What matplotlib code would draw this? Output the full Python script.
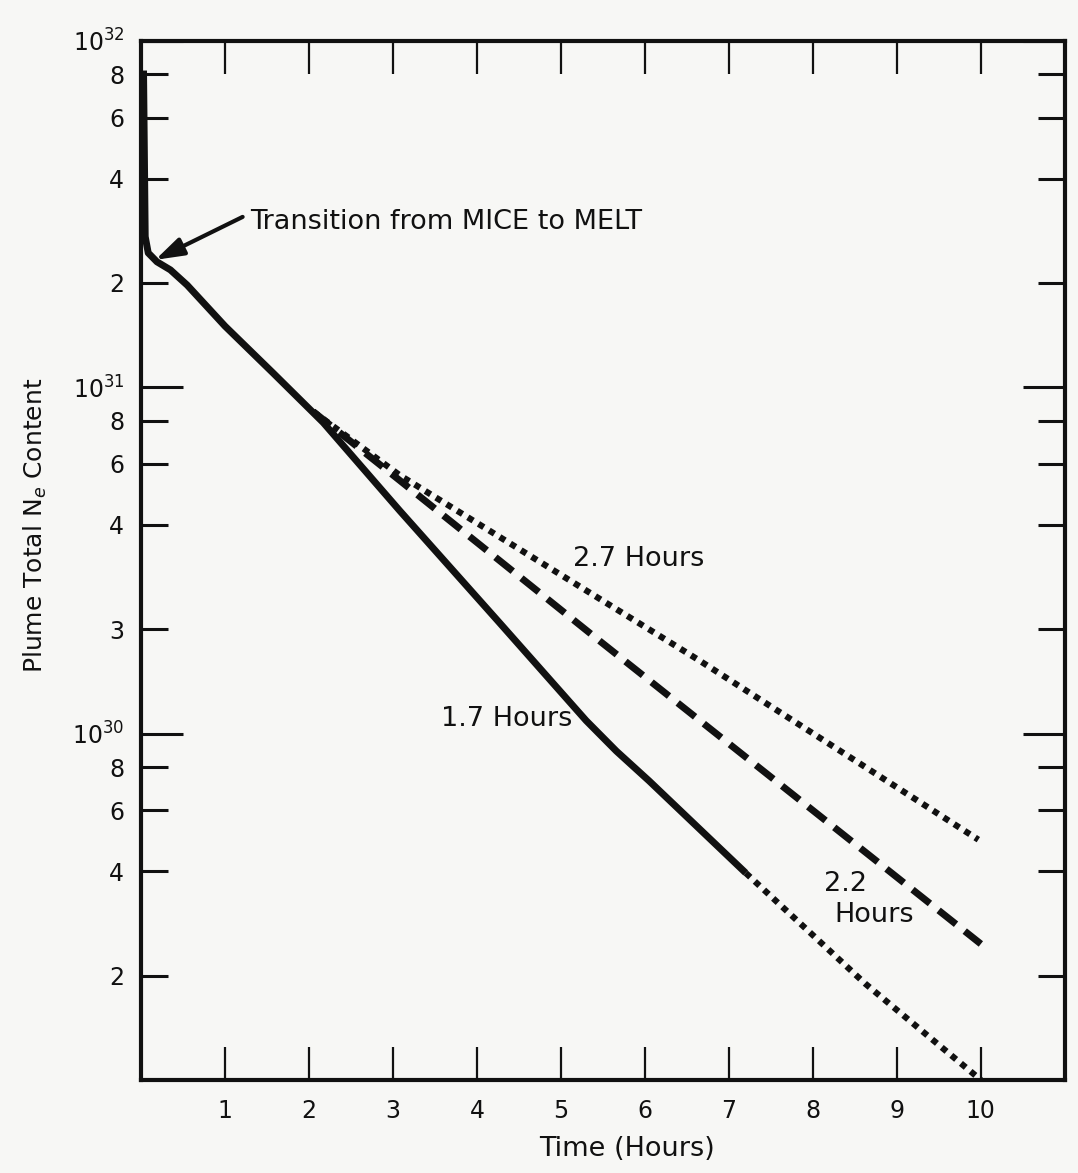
import matplotlib
matplotlib.use('Agg')
import matplotlib.pyplot as plt
from matplotlib.ticker import FixedLocator, FixedFormatter, NullFormatter

# values (time in hours, total electron content)
time_solid = [0.03, 0.05, 0.086, 0.19, 0.35, 0.55, 1.0, 1.57, 2.17, 3.08, 4.26, 5.30, 5.66, 6.05, 7.2]
ne_solid = [8.2e31, 2.72e31, 2.44e31, 2.30e31, 2.18e31, 1.97e31, 1.50e31, 1.10e31, 7.9e30,
            4.4e30, 2.1e30, 1.09e30, 8.9e29, 7.3e29, 3.96e29]

time_solid_ext = [7.2, 8.62, 10.0]
ne_solid_ext = [3.96e29, 1.9e29, 1.0e29]

time_22 = [2.05, 3.08, 5.45, 10.0]
ne_22 = [8.5e30, 5.38e30, 1.86e30, 2.47e29]

time_27 = [2.05, 3.08, 6.64, 9.97]
ne_27 = [8.5e30, 5.57e30, 1.63e30, 4.94e29]

x_ticks = [1, 2, 3, 4, 5, 6, 7, 8, 9, 10]
y_major = [1e30, 1e31, 1e32]
y_major_labels = ['$10^{30}$', '$10^{31}$', '$10^{32}$']
y_minor = [2e29, 4e29, 6e29, 8e29, 2e30, 4e30, 6e30, 8e30, 2e31, 4e31, 6e31, 8e31]
y_minor_labels = ['2', '4', '6', '8', '3', '4', '6', '8', '2', '4', '6', '8']

ink = '#111111'
paper = '#f7f7f5'
fs = 17
fs_note = 19.5

plt.rcParams['font.family'] = ['DejaVu Sans']
plt.rcParams['lines.scale_dashes'] = False

fig = plt.figure(figsize=(10.78, 11.73), dpi=100, facecolor=paper)
ax = fig.add_axes([0.1308, 0.0793, 0.857, 0.886])
ax.set_facecolor(paper)

ax.plot(time_solid, ne_solid, color=ink, lw=5, solid_capstyle='butt', solid_joinstyle='round')
ax.plot(time_solid_ext, ne_solid_ext, color=ink, lw=4.5, linestyle=(0, (4.5, 4.5)), dash_capstyle='butt')
ax.plot(time_22, ne_22, color=ink, lw=5, linestyle=(0, (16, 8)), dash_capstyle='butt')
ax.plot(time_27, ne_27, color=ink, lw=4.5, linestyle=(0, (4.5, 4.5)), dash_capstyle='butt')

ax.set_yscale('log')
ax.set_xlim(0, 11)
ax.set_ylim(1e29, 1e32)

ax.xaxis.set_major_locator(FixedLocator(x_ticks))
ax.yaxis.set_major_locator(FixedLocator(y_major))
ax.yaxis.set_major_formatter(FixedFormatter(y_major_labels))
ax.yaxis.set_minor_locator(FixedLocator(y_minor))
ax.yaxis.set_minor_formatter(FixedFormatter(y_minor_labels))
ax.xaxis.set_minor_formatter(NullFormatter())

ax.tick_params(axis='x', which='major', direction='in', length=24, width=1.6, top=True,
               labelsize=fs, pad=14, color=ink, labelcolor=ink)
ax.tick_params(axis='y', which='major', direction='in', length=30, width=2.2, right=True,
               labelsize=fs, pad=12, color=ink, labelcolor=ink)
ax.tick_params(axis='y', which='minor', direction='in', length=19.5, width=2.2, right=True,
               labelsize=fs, pad=12, color=ink, labelcolor=ink)

for s in ax.spines.values():
    s.set_linewidth(3)
    s.set_color(ink)

ax.set_xlabel('Time (Hours)', fontsize=fs_note, color=ink)
ax.xaxis.set_label_coords(0.526, -0.054)
ax.set_ylabel('Plume Total N$_e$ Content', fontsize=18, color=ink)
ax.yaxis.set_label_coords(-0.100, 0.534)

# annotations
ax.annotate('', xy=(0.17, 2.33e31), xytext=(1.21, 3.1e31),
            arrowprops=dict(arrowstyle='-|>,head_length=1.7,head_width=0.55',
                            lw=3, color=ink, shrinkA=0, shrinkB=0))
ax.text(1.30, 3.0e31, 'Transition from MICE to MELT', fontsize=fs_note, color=ink, va='center', ha='left')
ax.text(5.93, 3.2e30, '2.7 Hours', fontsize=fs_note, color=ink, va='center', ha='center')
ax.text(4.36, 1.1e30, '1.7 Hours', fontsize=fs_note, color=ink, va='center', ha='center')
ax.text(8.39, 3.68e29, '2.2', fontsize=fs_note, color=ink, va='center', ha='center')
ax.text(8.73, 3.0e29, 'Hours', fontsize=fs_note, color=ink, va='center', ha='center')

fig.savefig('out.png', dpi=100, facecolor=paper)
